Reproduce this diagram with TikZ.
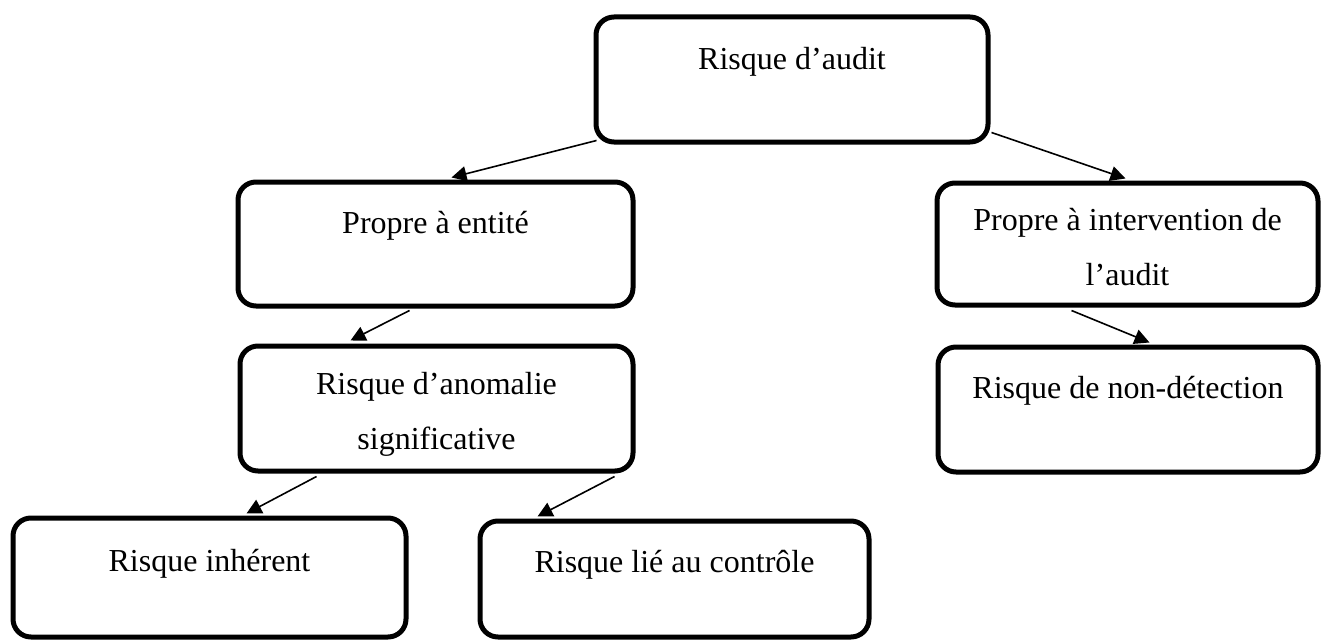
\documentclass[tikz,border=0pt]{standalone}
\usepackage{fontspec}
\setmainfont{Liberation Serif}
\usetikzlibrary{arrows.meta,calc}
\begin{document}
\begin{tikzpicture}[x=1pt,y=-1pt,
  box/.style={draw=black, line width=5pt, rounded corners=18pt, inner sep=0pt},
  lbl/.style={anchor=base, inner sep=0pt, align=center, font=\fontsize{32}{55}\selectfont},
  conn/.style={draw=black, line width=1.6pt, -{Triangle[length=15pt,width=15pt]}}]
\useasboundingbox (0,0) rectangle (1324,642);

% boxes
\node[box, minimum width=392pt, minimum height=125pt] (audit)    at (792,79.5)   {};
\node[box, minimum width=395pt, minimum height=124pt] (entite)   at (435.5,244)  {};
\node[box, minimum width=381pt, minimum height=122pt] (interv)   at (1127.5,244) {};
\node[box, minimum width=393pt, minimum height=125pt] (anomalie) at (436.5,408.5){};
\node[box, minimum width=380pt, minimum height=125pt] (nondet)   at (1128,409.5) {};
\node[box, minimum width=393pt, minimum height=119pt] (inherent) at (209.5,577.5){};
\node[box, minimum width=389pt, minimum height=116pt] (controle) at (674.5,579)  {};

% texts (base anchor = baseline of the last line)
\node[lbl] (t-audit)    at (792,70)     {Risque d’audit};
\node[lbl] (t-entite)   at (435.5,233)  {Propre à entité};
\node[lbl] (t-interv)   at (1127.5,285) {Propre à intervention de\\l’audit};
\node[lbl] (t-anomalie) at (436.5,449)  {Risque d’anomalie\\significative};
\node[lbl] (t-nondet)   at (1128,398)   {Risque de non-détection};
\node[lbl] (t-inherent) at (209.5,571)  {Risque inhérent};
\node[lbl] (t-controle) at (674.5,572)  {Risque lié au contrôle};

% connectors
\draw[conn] ($(audit.south west)+(3,-4)$)    -- ($(entite.north west)+(216,-2)$);
\draw[conn] ($(audit.south east)+(1,-12)$)   -- ($(interv.north west)+(191,-2)$);
\draw[conn] ($(entite.south west)+(174,2)$)  -- ($(anomalie.north west)+(113,-3)$);
\draw[conn] ($(interv.south west)+(137,3)$)  -- ($(nondet.north west)+(214,-2)$);
\draw[conn] ($(anomalie.south west)+(79,3)$) -- ($(inherent.north west)+(236,-2)$);
\draw[conn] ($(anomalie.south east)+(-21,3)$) -- ($(controle.north west)+(60,-2)$);
\end{tikzpicture}
\end{document}
